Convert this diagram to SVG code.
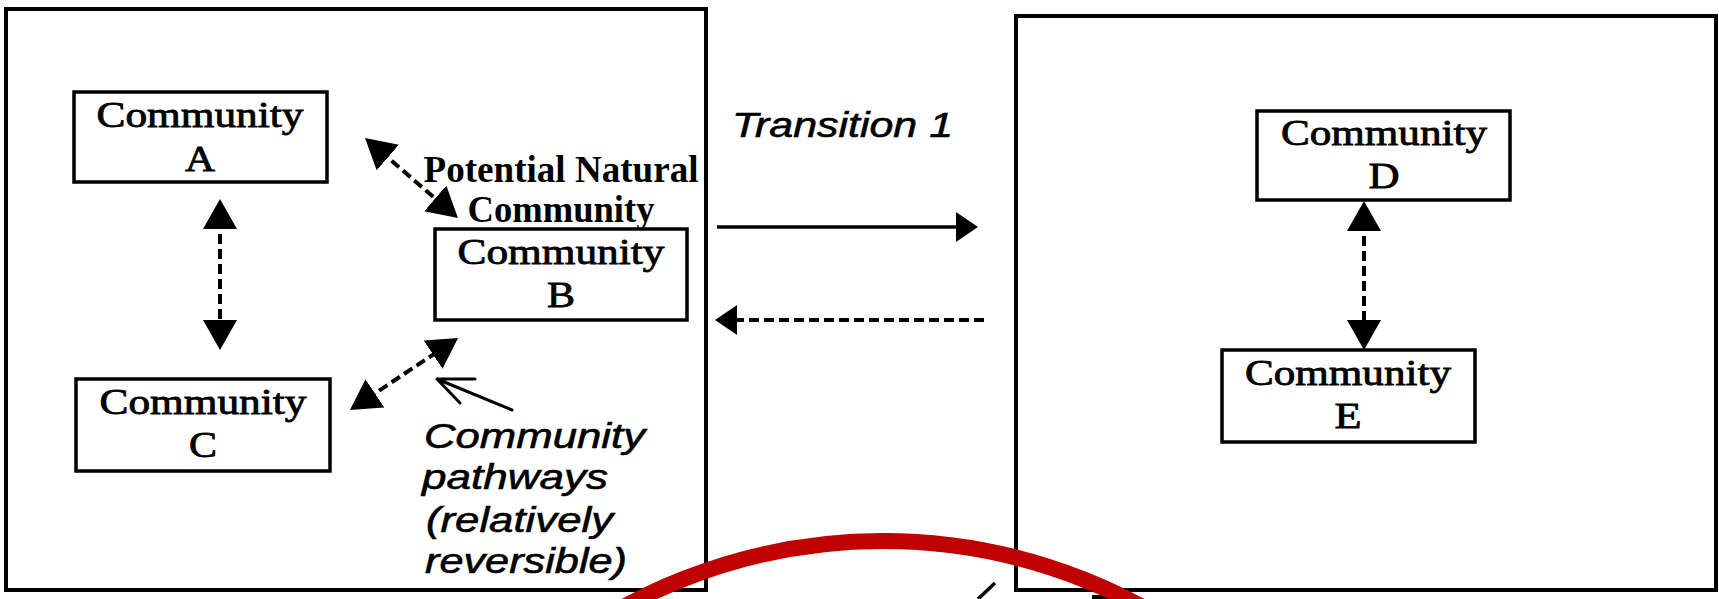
<svg xmlns="http://www.w3.org/2000/svg" width="1719" height="599" viewBox="0 0 1719 599">
  <style>
    .frame { fill: none; stroke: #000; stroke-width: 4; }
    .box { fill: #fff; stroke: #000; stroke-width: 3.5; }
    .lbl { font-family: "Liberation Serif", "Times New Roman", serif; font-size: 35px; fill: #000; stroke: #000; stroke-width: 0.8; text-anchor: middle; }
    .bold { font-family: "Liberation Serif", "Times New Roman", serif; font-size: 37px; font-weight: bold; fill: #000; text-anchor: middle; }
    .ital { font-family: "Liberation Sans", Arial, sans-serif; font-size: 35px; font-style: italic; fill: #000; stroke: #000; stroke-width: 0.6; }
    .dash { fill: none; stroke: #000; stroke-width: 4; stroke-dasharray: 10 5; }
    .solid { fill: none; stroke: #000; stroke-width: 3.5; }
    .thin { fill: none; stroke: #000; stroke-width: 3; stroke-linecap: round; stroke-linejoin: round; }
  </style>
  <defs>
    <marker id="ah" markerUnits="userSpaceOnUse" markerWidth="32" markerHeight="34" refX="10" refY="17" orient="auto-start-reverse">
      <path d="M0,0 L30,17 L0,34 Z" fill="#000"/>
    </marker>
    <marker id="ahh" markerUnits="userSpaceOnUse" markerWidth="24" markerHeight="30" refX="6" refY="15" orient="auto-start-reverse">
      <path d="M0,0 L22,15 L0,30 Z" fill="#000"/>
    </marker>
  </defs>
  <rect width="1719" height="599" fill="#fff"/>

  <g id="frame-left"><rect class="frame" x="6" y="9" width="700" height="581"/></g>
  <g id="frame-right"><rect class="frame" x="1016" y="16" width="700" height="574"/></g>

  <g id="community-a">
    <rect class="box" x="74" y="92" width="253" height="90"/>
    <text class="lbl" x="200" y="127" textLength="207" lengthAdjust="spacingAndGlyphs">Community</text>
    <text class="lbl" x="200" y="171" textLength="30" lengthAdjust="spacingAndGlyphs">A</text>
  </g>
  <g id="community-b">
    <rect class="box" x="435" y="229" width="252" height="91"/>
    <text class="lbl" x="561" y="264" textLength="207" lengthAdjust="spacingAndGlyphs">Community</text>
    <text class="lbl" x="561" y="307" textLength="28" lengthAdjust="spacingAndGlyphs">B</text>
  </g>
  <g id="community-c">
    <rect class="box" x="76" y="379" width="254" height="92"/>
    <text class="lbl" x="203" y="414" textLength="207" lengthAdjust="spacingAndGlyphs">Community</text>
    <text class="lbl" x="203" y="457" textLength="28" lengthAdjust="spacingAndGlyphs">C</text>
  </g>
  <g id="community-d">
    <rect class="box" x="1257" y="111" width="253" height="89"/>
    <text class="lbl" x="1384" y="145" textLength="206" lengthAdjust="spacingAndGlyphs">Community</text>
    <text class="lbl" x="1384" y="188" textLength="31" lengthAdjust="spacingAndGlyphs">D</text>
  </g>
  <g id="community-e">
    <rect class="box" x="1222" y="350" width="253" height="92"/>
    <text class="lbl" x="1348" y="385" textLength="206" lengthAdjust="spacingAndGlyphs">Community</text>
    <text class="lbl" x="1348" y="428" textLength="27" lengthAdjust="spacingAndGlyphs">E</text>
  </g>

  <g id="label-pnc">
    <text class="bold" x="561" y="182" textLength="275" lengthAdjust="spacingAndGlyphs">Potential Natural</text>
    <text class="bold" x="561" y="222" textLength="187" lengthAdjust="spacingAndGlyphs">Community</text>
  </g>
  <g id="label-transition">
    <text class="ital" x="732" y="137" textLength="221" lengthAdjust="spacingAndGlyphs">Transition 1</text>
  </g>
  <g id="label-pathways">
    <text class="ital" x="424" y="448" textLength="221" lengthAdjust="spacingAndGlyphs">Community</text>
    <text class="ital" x="422" y="489" textLength="186" lengthAdjust="spacingAndGlyphs">pathways</text>
    <text class="ital" x="426" y="532" textLength="187" lengthAdjust="spacingAndGlyphs">(relatively</text>
    <text class="ital" x="425" y="573" textLength="202" lengthAdjust="spacingAndGlyphs">reversible)</text>
  </g>

  <g id="connectors">
    <line class="dash" x1="220" y1="219" x2="220" y2="330" marker-start="url(#ah)" marker-end="url(#ah)"/>
    <line class="dash" x1="380.2" y1="151" x2="442.8" y2="205" marker-start="url(#ah)" marker-end="url(#ah)"/>
    <line class="dash" x1="366.6" y1="398.9" x2="441.4" y2="349.1" marker-start="url(#ah)" marker-end="url(#ah)"/>
    <line class="dash" x1="1364" y1="221" x2="1364" y2="330" marker-start="url(#ah)" marker-end="url(#ah)"/>
    <line class="solid" x1="717" y1="227" x2="962" y2="227" marker-end="url(#ahh)"/>
    <line class="dash" x1="984" y1="320" x2="731" y2="320" marker-end="url(#ahh)"/>
    <path class="thin" d="M475,379 L437,379 L460,403 M437,379 L512,410"/>
  </g>

  <g id="fragments">
    <line x1="995" y1="583" x2="978" y2="599" stroke="#000" stroke-width="3.5"/>
    <line x1="1092" y1="597" x2="1126" y2="597" stroke="#000" stroke-width="4"/>
    <circle cx="883" cy="1083" r="542" fill="none" stroke="#c00000" stroke-width="16"/>
  </g>
</svg>
